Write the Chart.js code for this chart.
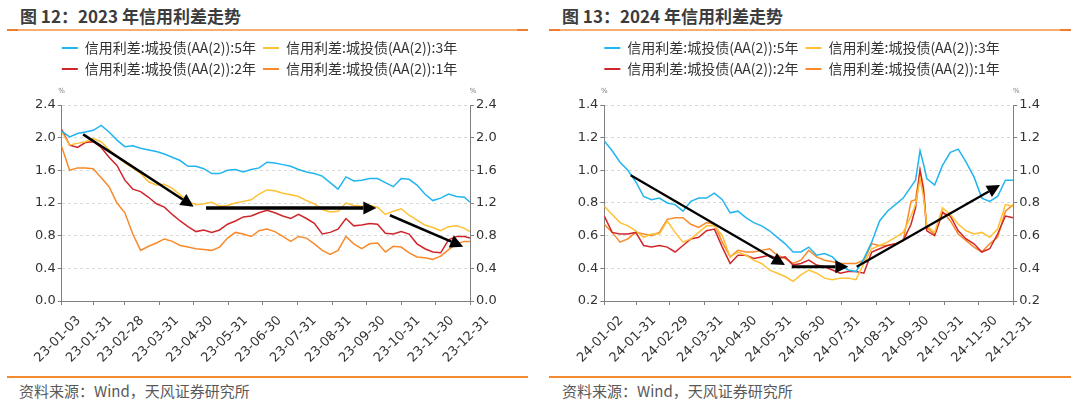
<!DOCTYPE html>
<html>
<head>
<meta charset="utf-8">
<script src="https://cdn.jsdelivr.net/npm/chart.js@4.4.1/dist/chart.umd.min.js"></script>
<style>
  body { margin: 0; width: 1080px; height: 399px; background: #fff; position: relative; overflow: hidden;
         font-family: "Noto Sans CJK SC", "Noto Sans", sans-serif; }
  .panel { position: absolute; top: 0; width: 540px; height: 399px; }
  .ttl { position: absolute; top: 4px; font-size: 17px; font-weight: bold; color: #3c3c3c; line-height: 23px; white-space: nowrap; }
  .rule { position: absolute; height: 2px; }
  .rule.top { top: 29px; background: linear-gradient(to right, #ee7d2e 0 11px, #f7ae72 11px calc(100% - 11px), #ee7d2e calc(100% - 11px)); }
  .rule.bot { top: 376px; background: #f28b30; }
  .src { position: absolute; top: 380px; font-size: 15px; color: #595959; line-height: 21px; white-space: nowrap; }
  canvas { position: absolute; top: 34px; left: 0; }
</style>
</head>
<body>
<div class="panel" style="left:0">
  <div class="ttl" style="left:20px">图 12：2023 年信用利差走势</div>
  <div class="rule top" style="left:7px;width:521px"></div>
  <canvas id="chart23" width="519" height="335"></canvas>
  <div class="rule bot" style="left:7px;width:521px"></div>
  <div class="src" style="left:19px">资料来源：Wind，天风证券研究所</div>
</div>
<div class="panel" style="left:540px">
  <div class="ttl" style="left:22px">图 13：2024 年信用利差走势</div>
  <div class="rule top" style="left:9px;width:522px"></div>
  <canvas id="chart24" width="524" height="335"></canvas>
  <div class="rule bot" style="left:9px;width:522px"></div>
  <div class="src" style="left:22px">资料来源：Wind，天风证券研究所</div>
</div>
<script>
// 系列名称与颜色
const seriesNames = [
    "信用利差:城投债(AA(2)):5年",
    "信用利差:城投债(AA(2)):3年",
    "信用利差:城投债(AA(2)):2年",
    "信用利差:城投债(AA(2)):1年",
];
const seriesColors = ["#21B5EF", "#FFC033", "#D0262B", "#F88A2B"];

// 2023 数据（周度读数）
const dates23 = [
    "01-03", "01-10", "01-17", "01-24", "01-31", "02-07", "02-14", "02-21", "02-28", "03-07",
    "03-14", "03-21", "03-28", "04-04", "04-11", "04-18", "04-25", "05-02", "05-09", "05-16",
    "05-23", "05-30", "06-06", "06-13", "06-20", "06-27", "07-04", "07-11", "07-18", "07-25",
    "08-01", "08-08", "08-15", "08-22", "08-29", "09-05", "09-12", "09-19", "09-26", "10-03",
    "10-10", "10-17", "10-24", "10-31", "11-07", "11-14", "11-21", "11-28", "12-05", "12-12",
    "12-19", "12-26", "12-31",
];
const y5_23 = [
    2.08, 2.01, 2.05, 2.07, 2.09, 2.15, 2.07, 1.97, 1.89, 1.90,
    1.87, 1.85, 1.83, 1.80, 1.76, 1.72, 1.65, 1.65, 1.62, 1.56,
    1.56, 1.60, 1.61, 1.58, 1.61, 1.63, 1.70, 1.69, 1.67, 1.65,
    1.61, 1.58, 1.56, 1.53, 1.45, 1.37, 1.52, 1.47, 1.48, 1.50,
    1.50, 1.45, 1.40, 1.50, 1.49, 1.42, 1.31, 1.23, 1.26, 1.31,
    1.28, 1.27, 1.21,
];
const y3_23 = [
    2.07, 1.91, 1.93, 1.95, 1.99, 1.95, 1.85, 1.77, 1.69, 1.63,
    1.56, 1.46, 1.42, 1.43, 1.38, 1.30, 1.22, 1.18, 1.19, 1.21,
    1.16, 1.17, 1.20, 1.22, 1.24, 1.31, 1.36, 1.35, 1.32, 1.30,
    1.28, 1.23, 1.19, 1.12, 1.09, 1.10, 1.20, 1.17, 1.16, 1.17,
    1.15, 1.06, 1.10, 1.13, 1.05, 0.99, 0.93, 0.90, 0.86, 0.91,
    0.92, 0.89, 0.85,
];
const y2_23 = [
    2.10, 1.91, 1.88, 1.94, 1.95, 1.88, 1.76, 1.66, 1.48, 1.37,
    1.34, 1.27, 1.19, 1.15, 1.06, 0.98, 0.91, 0.85, 0.87, 0.84,
    0.87, 0.94, 0.98, 1.03, 1.04, 1.08, 1.11, 1.08, 1.04, 1.01,
    1.06, 1.01, 0.95, 0.82, 0.84, 0.88, 1.01, 0.92, 0.93, 0.95,
    0.94, 0.83, 0.82, 0.85, 0.82, 0.70, 0.64, 0.60, 0.59, 0.75,
    0.79, 0.79, 0.77,
];
const y1_23 = [
    1.89, 1.60, 1.63, 1.63, 1.62, 1.51, 1.40, 1.20, 1.08, 0.82,
    0.62, 0.67, 0.71, 0.76, 0.73, 0.68, 0.66, 0.64, 0.63, 0.62,
    0.66, 0.77, 0.84, 0.82, 0.79, 0.86, 0.88, 0.85, 0.79, 0.73,
    0.79, 0.77, 0.70, 0.62, 0.57, 0.62, 0.79, 0.70, 0.64, 0.70,
    0.71, 0.60, 0.67, 0.66, 0.59, 0.54, 0.53, 0.51, 0.55, 0.63,
    0.70, 0.73, 0.73,
];
const ticks23 = [
    "23-01-03", "23-01-31", "23-02-28", "23-03-31", "23-04-30", "23-05-31", "23-06-30",
    "23-07-31", "23-08-31", "23-09-30", "23-10-31", "23-11-30", "23-12-31",
];
// 趋势箭头：[起点日, 起点值, 终点日, 终点值]
const arrows23 = [
    [22, 2.04, 120, 1.155],
    [131, 1.14, 282, 1.14],
    [294, 1.05, 359, 0.665],
];

// 2024 数据
const dates24 = [
    "01-02", "01-09", "01-16", "01-23", "01-30", "02-06", "02-13", "02-20", "02-27", "03-05",
    "03-12", "03-19", "03-26", "04-02", "04-09", "04-16", "04-23", "04-30", "05-07", "05-14",
    "05-21", "05-28", "06-04", "06-11", "06-18", "06-25", "07-02", "07-09", "07-16", "07-23",
    "07-30", "08-06", "08-13", "08-20", "08-27", "09-03", "09-10", "09-17", "09-24", "10-01",
    "10-05", "10-09", "10-12", "10-15", "10-22", "10-29", "11-05", "11-12", "11-19", "11-26",
    "12-03", "12-10", "12-17", "12-24", "12-31",
];
const y5_24 = [
    1.18, 1.12, 1.05, 1.00, 0.93, 0.84, 0.82, 0.83, 0.80, 0.79,
    0.75, 0.81, 0.83, 0.83, 0.86, 0.82, 0.74, 0.75, 0.71, 0.68,
    0.66, 0.63, 0.59, 0.55, 0.50, 0.50, 0.53, 0.48, 0.49, 0.47,
    0.42, 0.39, 0.38, 0.46, 0.56, 0.69, 0.75, 0.79, 0.83, 0.90,
    0.94, 1.12, 1.04, 0.95, 0.91, 1.03, 1.11, 1.13, 1.05, 0.96,
    0.83, 0.81, 0.84, 0.94, 0.94,
];
const y3_24 = [
    0.78, 0.73, 0.68, 0.66, 0.63, 0.59, 0.61, 0.61, 0.69, 0.62,
    0.56, 0.58, 0.62, 0.66, 0.66, 0.60, 0.47, 0.50, 0.48, 0.45,
    0.43, 0.39, 0.37, 0.35, 0.32, 0.36, 0.39, 0.37, 0.34, 0.33,
    0.34, 0.34, 0.33, 0.43, 0.52, 0.54, 0.56, 0.59, 0.62, 0.72,
    0.79, 0.95, 0.84, 0.66, 0.62, 0.77, 0.73, 0.67, 0.63, 0.61,
    0.62, 0.59, 0.64, 0.79, 0.78,
];
const y2_24 = [
    0.72, 0.62, 0.61, 0.61, 0.62, 0.54, 0.53, 0.54, 0.53, 0.50,
    0.54, 0.58, 0.59, 0.63, 0.64, 0.53, 0.43, 0.48, 0.48, 0.46,
    0.47, 0.48, 0.46, 0.47, 0.42, 0.43, 0.45, 0.42, 0.41, 0.39,
    0.37, 0.38, 0.38, 0.37, 0.50, 0.52, 0.54, 0.55, 0.57, 0.67,
    0.77, 1.00, 0.88, 0.63, 0.60, 0.74, 0.72, 0.63, 0.58, 0.55,
    0.50, 0.52, 0.61, 0.72, 0.71,
];
const y1_24 = [
    0.67, 0.62, 0.56, 0.58, 0.62, 0.61, 0.60, 0.62, 0.70, 0.71,
    0.71, 0.67, 0.65, 0.68, 0.67, 0.56, 0.47, 0.51, 0.50, 0.50,
    0.51, 0.52, 0.48, 0.46, 0.43, 0.45, 0.51, 0.47, 0.45, 0.44,
    0.43, 0.43, 0.43, 0.45, 0.55, 0.54, 0.54, 0.55, 0.57, 0.81,
    0.82, 1.00, 0.90, 0.65, 0.61, 0.75, 0.69, 0.61, 0.57, 0.53,
    0.50, 0.55, 0.59, 0.75, 0.79,
];
const ticks24 = [
    "24-01-02", "24-01-31", "24-02-29", "24-03-31", "24-04-30", "24-05-31", "24-06-30",
    "24-07-31", "24-08-31", "24-09-30", "24-10-31", "24-11-30", "24-12-31",
];
const arrows24 = [
    [25.5, 0.97, 162.8, 0.42],
    [168.8, 0.41, 219.2, 0.41],
    [226.6, 0.41, 354.2, 0.91],
];

Chart.defaults.font.family = '"DejaVu Sans", sans-serif';
Chart.defaults.font.size = 13;
Chart.defaults.color = "#333";

// "MM-DD" -> 一年中的第几天
function dayOfYear(year, md) {
    const [m, d] = md.split("-").map(Number);
    return (Date.UTC(year, m - 1, d) - Date.UTC(year, 0, 0)) / 86400000;
}

// 图例下方留白
const legendGap = {
    id: "legendGap",
    beforeInit(chart) {
        const fit = chart.legend.fit;
        chart.legend.fit = function () {
            fit.call(this);
            this.height += 19;
        };
    },
};

// 坐标轴顶部的 % 单位
const percentMarks = {
    id: "percentMarks",
    afterDraw(chart) {
        const { ctx, chartArea } = chart;
        ctx.save();
        ctx.font = '7px "DejaVu Sans"';
        ctx.fillStyle = "#777";
        ctx.textAlign = "center";
        ctx.textBaseline = "middle";
        ctx.fillText("%", chartArea.left, chartArea.top - 14);
        ctx.fillText("%", chartArea.right + 3, chartArea.top - 14);
        ctx.restore();
    },
};

function arrowPlugin(list, widths) {
    return {
        id: "trendArrows",
        afterDatasetsDraw(chart) {
            const { ctx, scales } = chart;
            ctx.save();
            ctx.strokeStyle = "#000";
            ctx.fillStyle = "#000";
            list.forEach((a, i) => {
                const x1 = scales.x.getPixelForValue(a[0]);
                const y1 = scales.y.getPixelForValue(a[1]);
                const x2 = scales.x.getPixelForValue(a[2]);
                const y2 = scales.y.getPixelForValue(a[3]);
                const ang = Math.atan2(y2 - y1, x2 - x1);
                const len = 13, half = 6.5;
                const bx = x2 - len * Math.cos(ang);
                const by = y2 - len * Math.sin(ang);
                ctx.lineWidth = widths[i];
                ctx.beginPath();
                ctx.moveTo(x1, y1);
                ctx.lineTo(bx, by);
                ctx.stroke();
                ctx.beginPath();
                ctx.moveTo(x2, y2);
                ctx.lineTo(bx + half * Math.sin(ang), by - half * Math.cos(ang));
                ctx.lineTo(bx - half * Math.sin(ang), by + half * Math.cos(ang));
                ctx.closePath();
                ctx.fill();
            });
            ctx.restore();
        },
    };
}

function newChart(id, cfg) {
    const xs = cfg.dates.map((d) => dayOfYear(cfg.year, d));
    const tickDays = cfg.ticks.map((t) => dayOfYear(cfg.year, t.slice(3)));

    const datasets = cfg.series.map((vals, i) => ({
        label: seriesNames[i],
        data: vals.map((v, j) => ({ x: xs[j], y: v })),
        borderColor: seriesColors[i],
        backgroundColor: seriesColors[i],
        borderWidth: 1.5,
        pointRadius: 0,
        tension: 0,
    }));

    const yTicks = {
        stepSize: cfg.step,
        color: "#333",
        padding: 2,
        callback: (v) => v.toFixed(1),
    };

    new Chart(document.getElementById(id), {
        type: "line",
        data: { datasets: datasets },
        options: {
            responsive: false,
            animation: false,
            layout: { padding: 0 },
            scales: {
                x: {
                    type: "linear",
                    min: tickDays[0],
                    max: tickDays[tickDays.length - 1],
                    afterBuildTicks: (s) => {
                        s.ticks = tickDays.map((v) => ({ value: v }));
                    },
                    afterFit: (s) => {
                        s.height = 68;
                    },
                    ticks: {
                        autoSkip: false,
                        maxRotation: 45,
                        minRotation: 45,
                        labelOffset: 17,
                        padding: 8,
                        color: "#333",
                        callback: (v, i) => cfg.ticks[i],
                    },
                    grid: { drawOnChartArea: false, tickLength: 4, tickColor: "#808080" },
                    border: { color: "#808080" },
                },
                y: {
                    position: "left",
                    min: cfg.min,
                    max: cfg.max,
                    afterFit: (s) => {
                        s.width = cfg.left;
                    },
                    ticks: yTicks,
                    grid: {
                        color: "#d9d9d9",
                        tickColor: "#808080",
                        tickLength: 4,
                        tickBorderDash: [],
                    },
                    border: { color: "#808080", dash: [3, 3] },
                },
                y2: {
                    position: "right",
                    min: cfg.min,
                    max: cfg.max,
                    afterFit: (s) => {
                        s.width = cfg.width - cfg.right;
                    },
                    ticks: yTicks,
                    grid: { drawOnChartArea: false, tickColor: "#808080", tickLength: 4 },
                    border: { color: "#808080" },
                },
            },
            plugins: {
                legend: {
                    labels: {
                        boxWidth: 16,
                        boxHeight: 2,
                        padding: 7,
                        color: "#333",
                        font: { family: '"Noto Sans CJK SC"', size: 14 },
                        generateLabels: (chart) =>
                            Chart.defaults.plugins.legend.labels
                                .generateLabels(chart)
                                .map((l) => Object.assign(l, { fillStyle: l.strokeStyle, lineWidth: 0 })),
                    },
                },
                tooltip: { enabled: false },
            },
        },
        plugins: [legendGap, percentMarks, arrowPlugin(cfg.arrows, cfg.arrowWidths)],
    });
}

newChart("chart23", {
    year: 2023,
    dates: dates23,
    series: [y5_23, y3_23, y2_23, y1_23],
    ticks: ticks23,
    min: 0, max: 2.4, step: 0.4,
    left: 61.7, right: 470, width: 519,
    arrows: arrows23,
    arrowWidths: [2.5, 3.5, 2.5],
});

newChart("chart24", {
    year: 2024,
    dates: dates24,
    series: [y5_24, y3_24, y2_24, y1_24],
    ticks: ticks24,
    min: 0.2, max: 1.4, step: 0.2,
    left: 64.3, right: 473.3, width: 524,
    arrows: arrows24,
    arrowWidths: [2.2, 3, 2.2],
});
</script>
</body>
</html>
